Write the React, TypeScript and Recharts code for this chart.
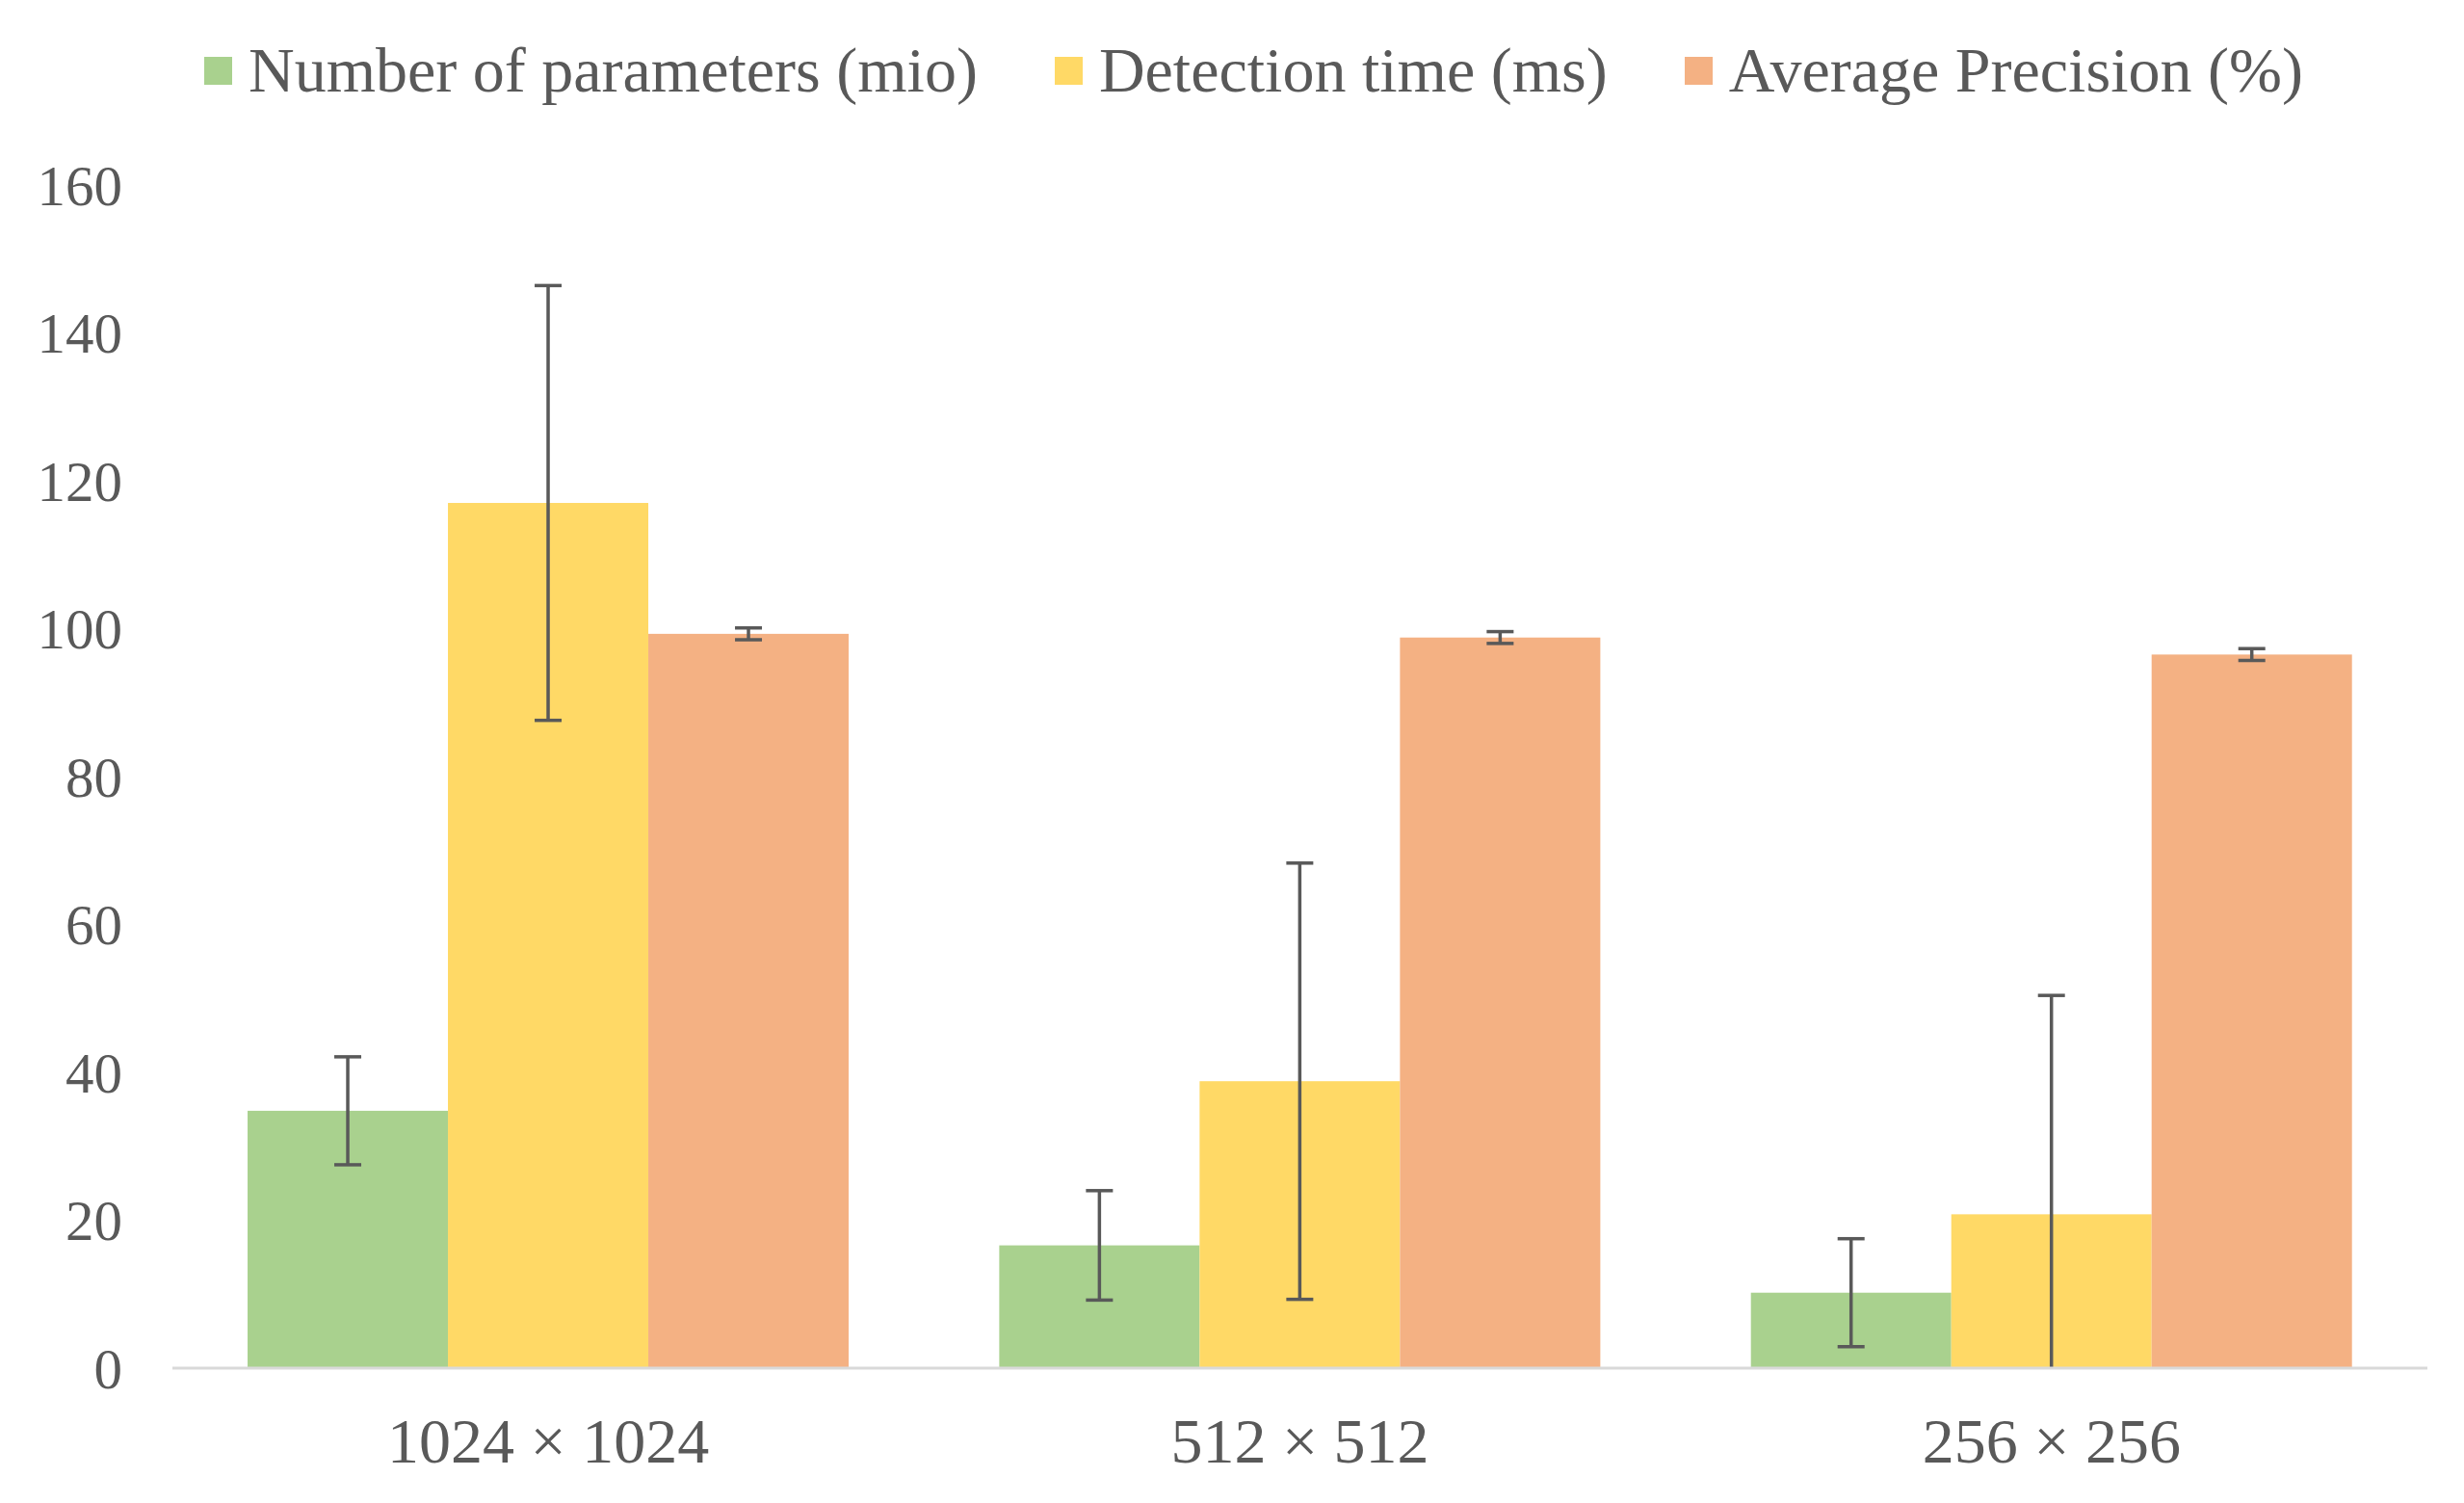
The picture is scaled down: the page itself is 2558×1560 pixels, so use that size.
import { BarChart, Bar, XAxis, YAxis } from "recharts";

const categories = ["1024 × 1024", "512 × 512", "256 × 256"];
const seriesNames = [
  "Number of parameters (mio)",
  "Detection time (ms)",
  "Average Precision (%)",
];
const seriesColors = ["#A9D18E", "#FFD966", "#F4B183"];

const parameters = [34.8, 16.6, 10.2];
const parametersErr = [7.3, 7.4, 7.3];
const detectionTime = [117.0, 38.8, 20.8];
const detectionTimeErr = [29.4, 29.5, 29.6];
const averagePrecision = [99.3, 98.8, 96.5];
const averagePrecisionErr = [0.8, 0.8, 0.8];

const yTicks = [0, 20, 40, 60, 80, 100, 120, 140, 160];

const data = categories.map((size, i) => ({
  size,
  params: parameters[i],
  paramsErr: parametersErr[i],
  detection: detectionTime[i],
  detectionErr: detectionTimeErr[i],
  ap: averagePrecision[i],
  apErr: averagePrecisionErr[i],
}));

const keys = [
  ["params", "paramsErr"],
  ["detection", "detectionErr"],
  ["ap", "apErr"],
];

const font = '"Liberation Serif", "Times New Roman", serif';
const textColor = "#595959";
const errColor = "#595959";

// bar + error bar, clipped at the baseline like excel does
function barWithError(errKey: string) {
  return (props: any) => {
    const { x, y, width, height, fill, payload } = props;
    const value = props.value as number;
    const err = payload[errKey] as number;
    const pxPerUnit = value ? height / value : 0;
    const cx = x + width / 2;
    const top = y - err * pxPerUnit;
    const below = Math.min(err * pxPerUnit, height);
    const bottom = y + below;
    const half = 14;
    return (
      <g>
        <rect x={x} y={y} width={width} height={height} fill={fill} />
        <line x1={cx} x2={cx} y1={top} y2={bottom} stroke={errColor} strokeWidth={3.5} />
        <line x1={cx - half} x2={cx + half} y1={top} y2={top} stroke={errColor} strokeWidth={3.5} />
        {value - err >= 0 && (
          <line x1={cx - half} x2={cx + half} y1={bottom} y2={bottom} stroke={errColor} strokeWidth={3.5} />
        )}
      </g>
    );
  };
}

export default function App() {
  return (
    <div
      style={{
        position: "absolute",
        left: 0,
        top: 0,
        width: 2558,
        height: 1560,
        background: "#ffffff",
        fontFamily: font,
      }}
    >
      {/* legend */}
      <div
        style={{
          position: "absolute",
          left: 212,
          top: 40,
          height: 66,
          display: "flex",
          alignItems: "center",
          gap: 80,
          color: textColor,
          fontSize: 66,
          lineHeight: 1,
          whiteSpace: "nowrap",
        }}
      >
        {seriesNames.map((name, i) => (
          <div key={name} style={{ display: "flex", alignItems: "center" }}>
            <span
              style={{
                width: 29,
                height: 29,
                background: seriesColors[i],
                marginRight: 17,
                display: "inline-block",
              }}
            />
            <span>{name}</span>
          </div>
        ))}
      </div>

      <BarChart
        width={2558}
        height={1560}
        data={data}
        margin={{ top: 192, right: 38, bottom: 0, left: 0 }}
        barCategoryGap="10%"
        barGap={0}
      >
        <XAxis
          dataKey="size"
          height={140}
          interval={0}
          tickLine={false}
          tickSize={0}
          tickMargin={51}
          axisLine={{ stroke: "#D9D9D9", strokeWidth: 3 }}
          tick={{ fill: textColor, fontSize: 66, fontFamily: font }}
        />
        <YAxis
          width={179}
          domain={[0, 160]}
          ticks={yTicks}
          axisLine={false}
          tickLine={false}
          tickSize={0}
          tickMargin={52}
          tick={{ fill: textColor, fontSize: 59, fontFamily: font }}
        />
        {keys.map(([k, e], i) => (
          <Bar
            key={k}
            dataKey={k}
            name={seriesNames[i]}
            fill={seriesColors[i]}
            shape={barWithError(e)}
            isAnimationActive={false}
          />
        ))}
      </BarChart>
    </div>
  );
}
